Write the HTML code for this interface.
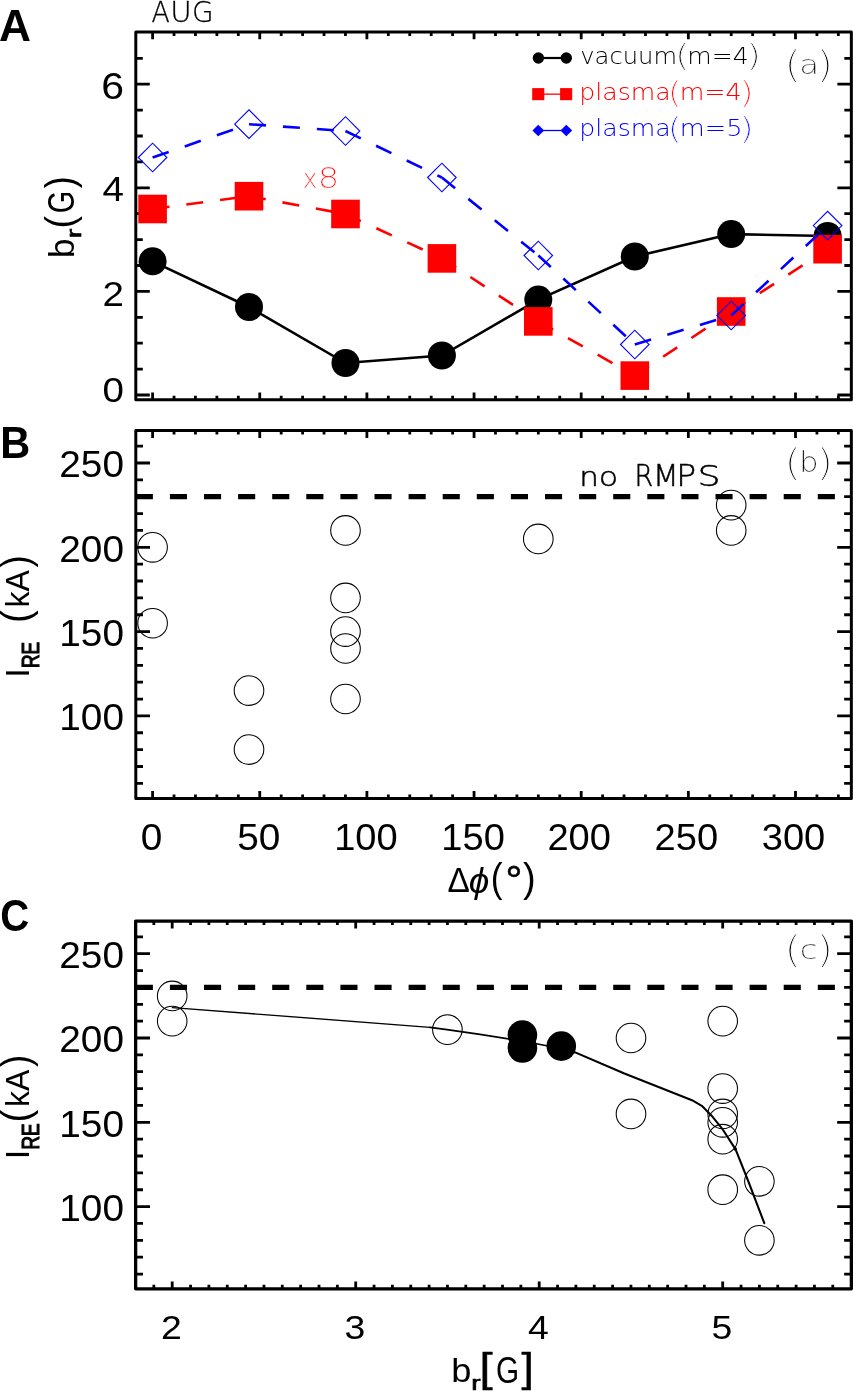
<!DOCTYPE html>
<html><head><meta charset="utf-8"><title>Figure</title>
<style>html,body{margin:0;padding:0;background:#fff}svg{display:block}</style></head>
<body><svg width="853" height="1392" viewBox="0 0 853 1392">
<rect width="853" height="1392" fill="#fff"/>
<g id="panel-a">
<rect x="135.8" y="32.0" width="715.55" height="367.80" fill="none" stroke="#000" stroke-width="3.0" stroke-linejoin="round"/>
<path d="M152.60 32.00L152.60 39.30M152.60 399.80L152.60 392.50M259.75 32.00L259.75 39.30M259.75 399.80L259.75 392.50M366.90 32.00L366.90 39.30M366.90 399.80L366.90 392.50M474.05 32.00L474.05 39.30M474.05 399.80L474.05 392.50M581.20 32.00L581.20 39.30M581.20 399.80L581.20 392.50M688.35 32.00L688.35 39.30M688.35 399.80L688.35 392.50M795.50 32.00L795.50 39.30M795.50 399.80L795.50 392.50M174.03 32.00L174.03 36.00M174.03 399.80L174.03 395.80M195.46 32.00L195.46 36.00M195.46 399.80L195.46 395.80M216.89 32.00L216.89 36.00M216.89 399.80L216.89 395.80M238.32 32.00L238.32 36.00M238.32 399.80L238.32 395.80M281.18 32.00L281.18 36.00M281.18 399.80L281.18 395.80M302.61 32.00L302.61 36.00M302.61 399.80L302.61 395.80M324.04 32.00L324.04 36.00M324.04 399.80L324.04 395.80M345.47 32.00L345.47 36.00M345.47 399.80L345.47 395.80M388.33 32.00L388.33 36.00M388.33 399.80L388.33 395.80M409.76 32.00L409.76 36.00M409.76 399.80L409.76 395.80M431.19 32.00L431.19 36.00M431.19 399.80L431.19 395.80M452.62 32.00L452.62 36.00M452.62 399.80L452.62 395.80M495.48 32.00L495.48 36.00M495.48 399.80L495.48 395.80M516.91 32.00L516.91 36.00M516.91 399.80L516.91 395.80M538.34 32.00L538.34 36.00M538.34 399.80L538.34 395.80M559.77 32.00L559.77 36.00M559.77 399.80L559.77 395.80M602.63 32.00L602.63 36.00M602.63 399.80L602.63 395.80M624.06 32.00L624.06 36.00M624.06 399.80L624.06 395.80M645.49 32.00L645.49 36.00M645.49 399.80L645.49 395.80M666.92 32.00L666.92 36.00M666.92 399.80L666.92 395.80M709.78 32.00L709.78 36.00M709.78 399.80L709.78 395.80M731.21 32.00L731.21 36.00M731.21 399.80L731.21 395.80M752.64 32.00L752.64 36.00M752.64 399.80L752.64 395.80M774.07 32.00L774.07 36.00M774.07 399.80L774.07 395.80M816.93 32.00L816.93 36.00M816.93 399.80L816.93 395.80M838.36 32.00L838.36 36.00M838.36 399.80L838.36 395.80" fill="none" stroke="#000" stroke-width="2.8"/>
<path d="M135.80 395.00L149.80 395.00M851.35 395.00L837.35 395.00M135.80 291.40L149.80 291.40M851.35 291.40L837.35 291.40M135.80 187.80L149.80 187.80M851.35 187.80L837.35 187.80M135.80 84.20L149.80 84.20M851.35 84.20L837.35 84.20M135.80 369.10L142.80 369.10M851.35 369.10L844.35 369.10M135.80 343.20L142.80 343.20M851.35 343.20L844.35 343.20M135.80 317.30L142.80 317.30M851.35 317.30L844.35 317.30M135.80 265.50L142.80 265.50M851.35 265.50L844.35 265.50M135.80 239.60L142.80 239.60M851.35 239.60L844.35 239.60M135.80 213.70L142.80 213.70M851.35 213.70L844.35 213.70M135.80 161.90L142.80 161.90M851.35 161.90L844.35 161.90M135.80 136.00L142.80 136.00M851.35 136.00L844.35 136.00M135.80 110.10L142.80 110.10M851.35 110.10L844.35 110.10M135.80 58.30L142.80 58.30M851.35 58.30L844.35 58.30" fill="none" stroke="#000" stroke-width="2.8"/>
<text transform="translate(124.00,99.08) scale(1.1,1)" font-family='"Liberation Sans", sans-serif' font-size="37.2" font-weight="400" text-anchor="end" fill="#000" >6</text>
<text transform="translate(124.00,201.40) scale(1.1,1)" font-family='"Liberation Sans", sans-serif' font-size="35.0" font-weight="400" text-anchor="end" fill="#000" >4</text>
<text transform="translate(124.00,306.20) scale(1.1,1)" font-family='"Liberation Sans", sans-serif' font-size="35.0" font-weight="400" text-anchor="end" fill="#000" >2</text>
<text transform="translate(124.00,401.60) scale(1.1,1)" font-family='"Liberation Sans", sans-serif' font-size="35.0" font-weight="400" text-anchor="end" fill="#000" >0</text>
<polyline points="152.6,261.3 249.0,307.0 345.5,363.0 441.9,355.5 538.3,299.6 634.8,256.5 731.2,234.1 827.6,236.0" fill="none" stroke="#000" stroke-width="2.6"/>
<circle cx="152.6" cy="261.3" r="14" fill="#000"/>
<circle cx="249.0" cy="307.0" r="14" fill="#000"/>
<circle cx="345.5" cy="363.0" r="14" fill="#000"/>
<circle cx="441.9" cy="355.5" r="14" fill="#000"/>
<circle cx="538.3" cy="299.6" r="14" fill="#000"/>
<circle cx="634.8" cy="256.5" r="14" fill="#000"/>
<circle cx="731.2" cy="234.1" r="14" fill="#000"/>
<circle cx="827.6" cy="236.0" r="14" fill="#000"/>
<line x1="152.60" y1="209.00" x2="249.03" y2="196.20" stroke="#f00" stroke-width="2.6" stroke-linecap="butt" stroke-dasharray="17 17"/>
<line x1="249.03" y1="196.20" x2="345.47" y2="214.00" stroke="#f00" stroke-width="2.6" stroke-linecap="butt" stroke-dasharray="17 17"/>
<line x1="345.47" y1="214.00" x2="441.90" y2="258.40" stroke="#f00" stroke-width="2.6" stroke-linecap="butt" stroke-dasharray="17 17"/>
<line x1="441.90" y1="258.40" x2="538.34" y2="321.40" stroke="#f00" stroke-width="2.6" stroke-linecap="butt" stroke-dasharray="17 17"/>
<line x1="538.34" y1="321.40" x2="634.77" y2="375.60" stroke="#f00" stroke-width="2.6" stroke-linecap="butt" stroke-dasharray="17 17"/>
<line x1="634.77" y1="375.60" x2="731.21" y2="311.50" stroke="#f00" stroke-width="2.6" stroke-linecap="butt" stroke-dasharray="17 17"/>
<line x1="731.21" y1="311.50" x2="827.64" y2="249.20" stroke="#f00" stroke-width="2.6" stroke-linecap="butt" stroke-dasharray="17 17"/>
<rect x="138.3" y="194.7" width="28.6" height="28.6" fill="#f00"/>
<rect x="234.7" y="181.9" width="28.6" height="28.6" fill="#f00"/>
<rect x="331.2" y="199.7" width="28.6" height="28.6" fill="#f00"/>
<rect x="427.6" y="244.1" width="28.6" height="28.6" fill="#f00"/>
<rect x="524.0" y="307.1" width="28.6" height="28.6" fill="#f00"/>
<rect x="620.5" y="361.3" width="28.6" height="28.6" fill="#f00"/>
<rect x="716.9" y="297.2" width="28.6" height="28.6" fill="#f00"/>
<rect x="813.3" y="234.9" width="28.6" height="28.6" fill="#f00"/>
<line x1="152.60" y1="157.50" x2="249.03" y2="124.20" stroke="#00f" stroke-width="2.6" stroke-linecap="butt" stroke-dasharray="17 17"/>
<line x1="249.03" y1="124.20" x2="345.47" y2="131.00" stroke="#00f" stroke-width="2.6" stroke-linecap="butt" stroke-dasharray="17 17"/>
<line x1="345.47" y1="131.00" x2="441.90" y2="177.50" stroke="#00f" stroke-width="2.6" stroke-linecap="butt" stroke-dasharray="17 17"/>
<line x1="441.90" y1="177.50" x2="538.34" y2="255.50" stroke="#00f" stroke-width="2.6" stroke-linecap="butt" stroke-dasharray="17 17"/>
<line x1="538.34" y1="255.50" x2="634.77" y2="344.50" stroke="#00f" stroke-width="2.6" stroke-linecap="butt" stroke-dasharray="17 17"/>
<line x1="634.77" y1="344.50" x2="731.21" y2="315.50" stroke="#00f" stroke-width="2.6" stroke-linecap="butt" stroke-dasharray="17 17"/>
<line x1="731.21" y1="315.50" x2="827.64" y2="225.60" stroke="#00f" stroke-width="2.6" stroke-linecap="butt" stroke-dasharray="17 17"/>
<path d="M138.3 157.5L152.6 143.2L166.9 157.5L152.6 171.8Z" fill="none" stroke="#00f" stroke-width="1.1"/>
<path d="M234.7 124.2L249.0 109.9L263.3 124.2L249.0 138.5Z" fill="none" stroke="#00f" stroke-width="1.1"/>
<path d="M331.2 131.0L345.5 116.7L359.8 131.0L345.5 145.3Z" fill="none" stroke="#00f" stroke-width="1.1"/>
<path d="M427.6 177.5L441.9 163.2L456.2 177.5L441.9 191.8Z" fill="none" stroke="#00f" stroke-width="1.1"/>
<path d="M524.0 255.5L538.3 241.2L552.6 255.5L538.3 269.8Z" fill="none" stroke="#00f" stroke-width="1.1"/>
<path d="M620.5 344.5L634.8 330.2L649.1 344.5L634.8 358.8Z" fill="none" stroke="#00f" stroke-width="1.1"/>
<path d="M716.9 315.5L731.2 301.2L745.5 315.5L731.2 329.8Z" fill="none" stroke="#00f" stroke-width="1.1"/>
<path d="M813.3 225.6L827.6 211.3L841.9 225.6L827.6 239.9Z" fill="none" stroke="#00f" stroke-width="1.1"/>
<line x1="538.40" y1="58.00" x2="566.30" y2="58.00" stroke="#000" stroke-width="2.2" stroke-linecap="butt"/>
<circle cx="538.4" cy="58.0" r="5.7" fill="#000"/><circle cx="566.3" cy="58.0" r="5.7" fill="#000"/>
<line x1="538.00" y1="94.15" x2="566.00" y2="94.15" stroke="#f00" stroke-width="1.3" stroke-linecap="butt"/>
<rect x="532.20" y="88.10" width="12.1" height="12.1" fill="#f00"/>
<rect x="560.10" y="88.10" width="12.1" height="12.1" fill="#f00"/>
<line x1="538.00" y1="130.50" x2="566.00" y2="130.50" stroke="#00f" stroke-width="1.3" stroke-linecap="butt"/>
<path d="M532.4 130.5L538.25 124.65L544.1 130.5L538.25 136.35Z" fill="#00f"/>
<path d="M560.4499999999999 130.5L566.3 124.65L572.15 130.5L566.3 136.35Z" fill="#00f"/>
<text transform="translate(0.00,63.50)" font-family='"DejaVu Sans Light", "DejaVu Sans", sans-serif' font-weight="200" fill="#000"><tspan x="580.26" y="0.00" font-size="22.8" textLength="96.71" lengthAdjust="spacingAndGlyphs">vacuum</tspan><tspan x="674.94" y="2.70" font-size="31.0" textLength="14.49" lengthAdjust="spacingAndGlyphs" stroke="#fff" stroke-width="0.5">(</tspan><tspan x="687.26" y="0.00" font-size="22.8" textLength="61.34" lengthAdjust="spacingAndGlyphs">m=4</tspan><tspan x="746.44" y="2.70" font-size="31.0" textLength="14.49" lengthAdjust="spacingAndGlyphs" stroke="#fff" stroke-width="0.5">)</tspan></text>
<text transform="translate(0.00,99.80)" font-family='"DejaVu Sans Light", "DejaVu Sans", sans-serif' font-weight="200" fill="#f00"><tspan x="579.32" y="0.00" font-size="22.8" textLength="91.43" lengthAdjust="spacingAndGlyphs">plasma</tspan><tspan x="667.86" y="2.70" font-size="31.0" textLength="14.05" lengthAdjust="spacingAndGlyphs" stroke="#fff" stroke-width="0.5">(</tspan><tspan x="679.74" y="0.00" font-size="22.8" textLength="61.89" lengthAdjust="spacingAndGlyphs">m=4</tspan><tspan x="739.38" y="2.70" font-size="31.0" textLength="14.71" lengthAdjust="spacingAndGlyphs" stroke="#fff" stroke-width="0.5">)</tspan></text>
<text transform="translate(0.00,136.00)" font-family='"DejaVu Sans Light", "DejaVu Sans", sans-serif' font-weight="200" fill="#00f"><tspan x="579.32" y="0.00" font-size="22.8" textLength="91.43" lengthAdjust="spacingAndGlyphs">plasma</tspan><tspan x="667.86" y="2.70" font-size="31.0" textLength="14.05" lengthAdjust="spacingAndGlyphs" stroke="#fff" stroke-width="0.5">(</tspan><tspan x="679.70" y="0.00" font-size="22.8" textLength="62.76" lengthAdjust="spacingAndGlyphs">m=5</tspan><tspan x="739.38" y="2.70" font-size="31.0" textLength="14.71" lengthAdjust="spacingAndGlyphs" stroke="#fff" stroke-width="0.5">)</tspan></text>
<text transform="translate(0.00,74.00)" font-family='"DejaVu Sans Light", "DejaVu Sans", sans-serif' font-weight="200" fill="#000"><tspan x="784.08" y="3.00" font-size="38.0" textLength="17.56" lengthAdjust="spacingAndGlyphs" stroke="#fff" stroke-width="0.8">(</tspan><tspan x="799.20" y="0.00" font-size="27.0" textLength="19.82" lengthAdjust="spacingAndGlyphs" stroke="#fff" stroke-width="0.3">a</tspan><tspan x="816.08" y="3.00" font-size="38.0" textLength="17.56" lengthAdjust="spacingAndGlyphs" stroke="#fff" stroke-width="0.8">)</tspan></text>
<text transform="translate(0.00,188.00)" font-family='"DejaVu Sans Light", "DejaVu Sans", sans-serif' font-weight="200" fill="#f00"><tspan x="302.82" y="0.00" font-size="27.4" textLength="14.66" lengthAdjust="spacingAndGlyphs" stroke="#fff" stroke-width="0.4">x</tspan><tspan x="317.82" y="0.00" font-size="29.2" textLength="21.48" lengthAdjust="spacingAndGlyphs" stroke="#fff" stroke-width="0.4">8</tspan></text>
<text transform="translate(0.00,21.70)" font-family='"DejaVu Sans Light", "DejaVu Sans", sans-serif' font-weight="200" fill="#000" stroke="#000" stroke-width="0"><tspan x="151.60" y="0.00" font-size="28.7" textLength="18.28" lengthAdjust="spacingAndGlyphs" stroke-width="0.3">A</tspan><tspan x="170.22" y="0.00" font-size="28.7" textLength="21.46" lengthAdjust="spacingAndGlyphs" stroke-width="0.3">U</tspan><tspan x="191.97" y="0.00" font-size="28.4" textLength="21.59" lengthAdjust="spacingAndGlyphs" stroke-width="0.3">G</tspan></text>
<text transform="translate(0.00,41.30)" font-family='"Liberation Sans", sans-serif' font-weight="700" fill="#000"><tspan x="-0.90" y="0.00" font-size="43.5" textLength="31.97" lengthAdjust="spacingAndGlyphs">A</tspan></text>
<text transform="translate(0.00,457.90)" font-family='"Liberation Sans", sans-serif' font-weight="700" fill="#000"><tspan x="0.22" y="0.00" font-size="43.5" textLength="29.96" lengthAdjust="spacingAndGlyphs">B</tspan></text>
<text transform="translate(0.00,930.80)" font-family='"Liberation Sans", sans-serif' font-weight="700" fill="#000"><tspan x="0.16" y="0.00" font-size="43.5" textLength="28.94" lengthAdjust="spacingAndGlyphs">C</tspan></text>
<text transform="translate(73.90,256.00) rotate(-90)" font-family='"Liberation Sans", sans-serif' font-weight="400" fill="#000" stroke="#000" stroke-width="0"><tspan x="-1.95" y="0.00" font-size="34.2" textLength="19.42" lengthAdjust="spacingAndGlyphs">b</tspan><tspan x="17.81" y="7.20" font-size="20.5" textLength="9.46" lengthAdjust="spacingAndGlyphs" stroke-width="0.7">r</tspan><tspan x="27.46" y="0.40" font-size="40.0" textLength="12.56" lengthAdjust="spacingAndGlyphs">(</tspan><tspan x="42.74" y="0.40" font-size="37.3" textLength="22.52" lengthAdjust="spacingAndGlyphs">G</tspan><tspan x="67.79" y="0.40" font-size="40.0" textLength="11.93" lengthAdjust="spacingAndGlyphs">)</tspan></text>
</g>
<g id="panel-b">
<rect x="135.8" y="430.6" width="715.55" height="367.80" fill="none" stroke="#000" stroke-width="3.0" stroke-linejoin="round"/>
<path d="M152.60 430.60L152.60 437.90M152.60 798.40L152.60 791.10M259.75 430.60L259.75 437.90M259.75 798.40L259.75 791.10M366.90 430.60L366.90 437.90M366.90 798.40L366.90 791.10M474.05 430.60L474.05 437.90M474.05 798.40L474.05 791.10M581.20 430.60L581.20 437.90M581.20 798.40L581.20 791.10M688.35 430.60L688.35 437.90M688.35 798.40L688.35 791.10M795.50 430.60L795.50 437.90M795.50 798.40L795.50 791.10M174.03 430.60L174.03 434.60M174.03 798.40L174.03 794.40M195.46 430.60L195.46 434.60M195.46 798.40L195.46 794.40M216.89 430.60L216.89 434.60M216.89 798.40L216.89 794.40M238.32 430.60L238.32 434.60M238.32 798.40L238.32 794.40M281.18 430.60L281.18 434.60M281.18 798.40L281.18 794.40M302.61 430.60L302.61 434.60M302.61 798.40L302.61 794.40M324.04 430.60L324.04 434.60M324.04 798.40L324.04 794.40M345.47 430.60L345.47 434.60M345.47 798.40L345.47 794.40M388.33 430.60L388.33 434.60M388.33 798.40L388.33 794.40M409.76 430.60L409.76 434.60M409.76 798.40L409.76 794.40M431.19 430.60L431.19 434.60M431.19 798.40L431.19 794.40M452.62 430.60L452.62 434.60M452.62 798.40L452.62 794.40M495.48 430.60L495.48 434.60M495.48 798.40L495.48 794.40M516.91 430.60L516.91 434.60M516.91 798.40L516.91 794.40M538.34 430.60L538.34 434.60M538.34 798.40L538.34 794.40M559.77 430.60L559.77 434.60M559.77 798.40L559.77 794.40M602.63 430.60L602.63 434.60M602.63 798.40L602.63 794.40M624.06 430.60L624.06 434.60M624.06 798.40L624.06 794.40M645.49 430.60L645.49 434.60M645.49 798.40L645.49 794.40M666.92 430.60L666.92 434.60M666.92 798.40L666.92 794.40M709.78 430.60L709.78 434.60M709.78 798.40L709.78 794.40M731.21 430.60L731.21 434.60M731.21 798.40L731.21 794.40M752.64 430.60L752.64 434.60M752.64 798.40L752.64 794.40M774.07 430.60L774.07 434.60M774.07 798.40L774.07 794.40M816.93 430.60L816.93 434.60M816.93 798.40L816.93 794.40M838.36 430.60L838.36 434.60M838.36 798.40L838.36 794.40" fill="none" stroke="#000" stroke-width="2.8"/>
<path d="M135.80 715.90L150.00 715.90M851.35 715.90L837.15 715.90M135.80 631.60L150.00 631.60M851.35 631.60L837.15 631.60M135.80 547.30L150.00 547.30M851.35 547.30L837.15 547.30M135.80 463.00L150.00 463.00M851.35 463.00L837.15 463.00M135.80 783.34L143.00 783.34M851.35 783.34L844.15 783.34M135.80 766.48L143.00 766.48M851.35 766.48L844.15 766.48M135.80 749.62L143.00 749.62M851.35 749.62L844.15 749.62M135.80 732.76L143.00 732.76M851.35 732.76L844.15 732.76M135.80 699.04L143.00 699.04M851.35 699.04L844.15 699.04M135.80 682.18L143.00 682.18M851.35 682.18L844.15 682.18M135.80 665.32L143.00 665.32M851.35 665.32L844.15 665.32M135.80 648.46L143.00 648.46M851.35 648.46L844.15 648.46M135.80 614.74L143.00 614.74M851.35 614.74L844.15 614.74M135.80 597.88L143.00 597.88M851.35 597.88L844.15 597.88M135.80 581.02L143.00 581.02M851.35 581.02L844.15 581.02M135.80 564.16L143.00 564.16M851.35 564.16L844.15 564.16M135.80 530.44L143.00 530.44M851.35 530.44L844.15 530.44M135.80 513.58L143.00 513.58M851.35 513.58L844.15 513.58M135.80 496.72L143.00 496.72M851.35 496.72L844.15 496.72M135.80 479.86L143.00 479.86M851.35 479.86L844.15 479.86M135.80 446.14L143.00 446.14M851.35 446.14L844.15 446.14" fill="none" stroke="#000" stroke-width="2.8"/>
<text transform="translate(124.00,730.30) scale(1.06,1)" font-family='"Liberation Sans", sans-serif' font-size="36.6" font-weight="400" text-anchor="end" fill="#000" >100</text>
<text transform="translate(124.00,646.00) scale(1.06,1)" font-family='"Liberation Sans", sans-serif' font-size="36.6" font-weight="400" text-anchor="end" fill="#000" >150</text>
<text transform="translate(124.00,561.70) scale(1.06,1)" font-family='"Liberation Sans", sans-serif' font-size="36.6" font-weight="400" text-anchor="end" fill="#000" >200</text>
<text transform="translate(124.00,477.40) scale(1.06,1)" font-family='"Liberation Sans", sans-serif' font-size="36.6" font-weight="400" text-anchor="end" fill="#000" >250</text>
<text transform="translate(151.60,849.60) scale(1.06,1)" font-family='"Liberation Sans", sans-serif' font-size="36.6" font-weight="400" text-anchor="middle" fill="#000" >0</text>
<text transform="translate(258.75,849.60) scale(1.06,1)" font-family='"Liberation Sans", sans-serif' font-size="36.6" font-weight="400" text-anchor="middle" fill="#000" >50</text>
<text transform="translate(365.90,849.60) scale(1.04,1)" font-family='"Liberation Sans", sans-serif' font-size="36.6" font-weight="400" text-anchor="middle" fill="#000" >100</text>
<text transform="translate(473.05,849.60) scale(1.04,1)" font-family='"Liberation Sans", sans-serif' font-size="36.6" font-weight="400" text-anchor="middle" fill="#000" >150</text>
<text transform="translate(579.20,849.60) scale(1.04,1)" font-family='"Liberation Sans", sans-serif' font-size="36.6" font-weight="400" text-anchor="middle" fill="#000" >200</text>
<text transform="translate(686.35,849.60) scale(1.04,1)" font-family='"Liberation Sans", sans-serif' font-size="36.6" font-weight="400" text-anchor="middle" fill="#000" >250</text>
<text transform="translate(793.50,849.60) scale(1.04,1)" font-family='"Liberation Sans", sans-serif' font-size="36.6" font-weight="400" text-anchor="middle" fill="#000" >300</text>
<line x1="135.80" y1="496.72" x2="851.35" y2="496.72" stroke="#000" stroke-width="5.2" stroke-linecap="butt" stroke-dasharray="17.1 17.0"/>
<circle cx="152.6" cy="547.3" r="14.8" fill="none" stroke="#000" stroke-width="1.05"/>
<circle cx="152.6" cy="623.2" r="14.8" fill="none" stroke="#000" stroke-width="1.05"/>
<circle cx="249.0" cy="690.6" r="14.8" fill="none" stroke="#000" stroke-width="1.05"/>
<circle cx="249.0" cy="749.6" r="14.8" fill="none" stroke="#000" stroke-width="1.05"/>
<circle cx="345.5" cy="530.4" r="14.8" fill="none" stroke="#000" stroke-width="1.05"/>
<circle cx="345.5" cy="597.9" r="14.8" fill="none" stroke="#000" stroke-width="1.05"/>
<circle cx="345.5" cy="631.6" r="14.8" fill="none" stroke="#000" stroke-width="1.05"/>
<circle cx="345.5" cy="648.5" r="14.8" fill="none" stroke="#000" stroke-width="1.05"/>
<circle cx="345.5" cy="699.0" r="14.8" fill="none" stroke="#000" stroke-width="1.05"/>
<circle cx="538.3" cy="538.9" r="14.8" fill="none" stroke="#000" stroke-width="1.05"/>
<circle cx="731.2" cy="505.1" r="14.8" fill="none" stroke="#000" stroke-width="1.05"/>
<circle cx="731.2" cy="530.4" r="14.8" fill="none" stroke="#000" stroke-width="1.05"/>
<text transform="translate(0.00,486.10)" font-family='"DejaVu Sans Light", "DejaVu Sans", sans-serif' font-weight="200" fill="#000" stroke="#000" stroke-width="0"><tspan x="579.39" y="0.00" font-size="26.0" textLength="19.64" lengthAdjust="spacingAndGlyphs" stroke-width="0.5">n</tspan><tspan x="598.69" y="0.00" font-size="26.0" textLength="29.54" lengthAdjust="spacingAndGlyphs" stroke-width="0.5">o </tspan><tspan x="634.40" y="0.00" font-size="29.3" textLength="18.64" lengthAdjust="spacingAndGlyphs" stroke-width="0.5">R</tspan><tspan x="653.12" y="0.00" font-size="29.3" textLength="25.65" lengthAdjust="spacingAndGlyphs" stroke-width="0.5">M</tspan><tspan x="676.38" y="0.00" font-size="29.3" textLength="19.84" lengthAdjust="spacingAndGlyphs" stroke-width="0.5">P</tspan><tspan x="697.47" y="0.00" font-size="29.0" textLength="23.10" lengthAdjust="spacingAndGlyphs" stroke-width="0.5">S</tspan></text>
<text transform="translate(0.00,471.90)" font-family='"DejaVu Sans Light", "DejaVu Sans", sans-serif' font-weight="200" fill="#000"><tspan x="784.08" y="3.00" font-size="38.0" textLength="17.56" lengthAdjust="spacingAndGlyphs" stroke="#fff" stroke-width="0.8">(</tspan><tspan x="799.38" y="0.00" font-size="27.5" textLength="19.29" lengthAdjust="spacingAndGlyphs" stroke="#fff" stroke-width="0.3">b</tspan><tspan x="816.08" y="3.00" font-size="38.0" textLength="17.56" lengthAdjust="spacingAndGlyphs" stroke="#fff" stroke-width="0.8">)</tspan></text>
<text transform="translate(28.60,676.00) rotate(-90)" font-family='"Liberation Sans", sans-serif' font-weight="400" fill="#000" stroke="#000" stroke-width="0"><tspan x="-1.67" y="0.00" font-size="34.0" textLength="9.53" lengthAdjust="spacingAndGlyphs">I</tspan><tspan x="7.95" y="10.00" font-size="24.0" textLength="31.52" lengthAdjust="spacingAndGlyphs" stroke-width="1.1">RE </tspan><tspan x="53.01" y="1.30" font-size="40.0" textLength="12.81" lengthAdjust="spacingAndGlyphs">(</tspan><tspan x="68.44" y="0.00" font-size="34.0" textLength="37.42" lengthAdjust="spacingAndGlyphs">kA</tspan><tspan x="108.49" y="1.30" font-size="40.0" textLength="12.18" lengthAdjust="spacingAndGlyphs">)</tspan></text>
<text transform="translate(0.00,892.30)" font-family='"Liberation Sans", sans-serif' font-weight="400" fill="#000" stroke="#000" stroke-width="0"><tspan x="447.51" y="0.00" font-size="35.5" textLength="22.31" lengthAdjust="spacingAndGlyphs">Δ</tspan><tspan x="468.71" y="0.30" font-size="35.0" textLength="20.59" lengthAdjust="spacingAndGlyphs" font-style="italic">ϕ</tspan><tspan x="490.80" y="0.00" font-size="41.0" textLength="11.81" lengthAdjust="spacingAndGlyphs">(</tspan><tspan x="505.59" y="1.70" font-size="40.0" textLength="16.84" lengthAdjust="spacingAndGlyphs" stroke-width="0.6">°</tspan><tspan x="522.88" y="0.00" font-size="41.0" textLength="12.69" lengthAdjust="spacingAndGlyphs">)</tspan></text>
</g>
<g id="panel-c">
<rect x="135.65" y="921.1" width="715.70" height="367.70" fill="none" stroke="#000" stroke-width="3.3" stroke-linejoin="round"/>
<path d="M172.20 921.10L172.20 928.40M172.20 1288.80L172.20 1281.50M355.70 921.10L355.70 928.40M355.70 1288.80L355.70 1281.50M539.20 921.10L539.20 928.40M539.20 1288.80L539.20 1281.50M722.70 921.10L722.70 928.40M722.70 1288.80L722.70 1281.50M153.85 921.10L153.85 925.10M153.85 1288.80L153.85 1284.80M190.55 921.10L190.55 925.10M190.55 1288.80L190.55 1284.80M208.90 921.10L208.90 925.10M208.90 1288.80L208.90 1284.80M227.25 921.10L227.25 925.10M227.25 1288.80L227.25 1284.80M245.60 921.10L245.60 925.10M245.60 1288.80L245.60 1284.80M263.95 921.10L263.95 925.10M263.95 1288.80L263.95 1284.80M282.30 921.10L282.30 925.10M282.30 1288.80L282.30 1284.80M300.65 921.10L300.65 925.10M300.65 1288.80L300.65 1284.80M319.00 921.10L319.00 925.10M319.00 1288.80L319.00 1284.80M337.35 921.10L337.35 925.10M337.35 1288.80L337.35 1284.80M374.05 921.10L374.05 925.10M374.05 1288.80L374.05 1284.80M392.40 921.10L392.40 925.10M392.40 1288.80L392.40 1284.80M410.75 921.10L410.75 925.10M410.75 1288.80L410.75 1284.80M429.10 921.10L429.10 925.10M429.10 1288.80L429.10 1284.80M447.45 921.10L447.45 925.10M447.45 1288.80L447.45 1284.80M465.80 921.10L465.80 925.10M465.80 1288.80L465.80 1284.80M484.15 921.10L484.15 925.10M484.15 1288.80L484.15 1284.80M502.50 921.10L502.50 925.10M502.50 1288.80L502.50 1284.80M520.85 921.10L520.85 925.10M520.85 1288.80L520.85 1284.80M557.55 921.10L557.55 925.10M557.55 1288.80L557.55 1284.80M575.90 921.10L575.90 925.10M575.90 1288.80L575.90 1284.80M594.25 921.10L594.25 925.10M594.25 1288.80L594.25 1284.80M612.60 921.10L612.60 925.10M612.60 1288.80L612.60 1284.80M630.95 921.10L630.95 925.10M630.95 1288.80L630.95 1284.80M649.30 921.10L649.30 925.10M649.30 1288.80L649.30 1284.80M667.65 921.10L667.65 925.10M667.65 1288.80L667.65 1284.80M686.00 921.10L686.00 925.10M686.00 1288.80L686.00 1284.80M704.35 921.10L704.35 925.10M704.35 1288.80L704.35 1284.80M741.05 921.10L741.05 925.10M741.05 1288.80L741.05 1284.80M759.40 921.10L759.40 925.10M759.40 1288.80L759.40 1284.80M777.75 921.10L777.75 925.10M777.75 1288.80L777.75 1284.80M796.10 921.10L796.10 925.10M796.10 1288.80L796.10 1284.80M814.45 921.10L814.45 925.10M814.45 1288.80L814.45 1284.80M832.80 921.10L832.80 925.10M832.80 1288.80L832.80 1284.80" fill="none" stroke="#000" stroke-width="2.8"/>
<path d="M135.80 1206.60L150.00 1206.60M851.35 1206.60L837.15 1206.60M135.80 1122.30L150.00 1122.30M851.35 1122.30L837.15 1122.30M135.80 1038.00L150.00 1038.00M851.35 1038.00L837.15 1038.00M135.80 953.70L150.00 953.70M851.35 953.70L837.15 953.70M135.80 1274.04L143.00 1274.04M851.35 1274.04L844.15 1274.04M135.80 1257.18L143.00 1257.18M851.35 1257.18L844.15 1257.18M135.80 1240.32L143.00 1240.32M851.35 1240.32L844.15 1240.32M135.80 1223.46L143.00 1223.46M851.35 1223.46L844.15 1223.46M135.80 1189.74L143.00 1189.74M851.35 1189.74L844.15 1189.74M135.80 1172.88L143.00 1172.88M851.35 1172.88L844.15 1172.88M135.80 1156.02L143.00 1156.02M851.35 1156.02L844.15 1156.02M135.80 1139.16L143.00 1139.16M851.35 1139.16L844.15 1139.16M135.80 1105.44L143.00 1105.44M851.35 1105.44L844.15 1105.44M135.80 1088.58L143.00 1088.58M851.35 1088.58L844.15 1088.58M135.80 1071.72L143.00 1071.72M851.35 1071.72L844.15 1071.72M135.80 1054.86L143.00 1054.86M851.35 1054.86L844.15 1054.86M135.80 1021.14L143.00 1021.14M851.35 1021.14L844.15 1021.14M135.80 1004.28L143.00 1004.28M851.35 1004.28L844.15 1004.28M135.80 987.42L143.00 987.42M851.35 987.42L844.15 987.42M135.80 970.56L143.00 970.56M851.35 970.56L844.15 970.56M135.80 936.84L143.00 936.84M851.35 936.84L844.15 936.84" fill="none" stroke="#000" stroke-width="2.8"/>
<text transform="translate(124.00,1221.00) scale(1.06,1)" font-family='"Liberation Sans", sans-serif' font-size="36.6" font-weight="400" text-anchor="end" fill="#000" >100</text>
<text transform="translate(124.00,1136.70) scale(1.06,1)" font-family='"Liberation Sans", sans-serif' font-size="36.6" font-weight="400" text-anchor="end" fill="#000" >150</text>
<text transform="translate(124.00,1052.40) scale(1.06,1)" font-family='"Liberation Sans", sans-serif' font-size="36.6" font-weight="400" text-anchor="end" fill="#000" >200</text>
<text transform="translate(124.00,968.10) scale(1.06,1)" font-family='"Liberation Sans", sans-serif' font-size="36.6" font-weight="400" text-anchor="end" fill="#000" >250</text>
<text transform="translate(171.40,1339.30) scale(1.1,1)" font-family='"Liberation Sans", sans-serif' font-size="34.0" font-weight="400" text-anchor="middle" fill="#000" >2</text>
<text transform="translate(354.90,1339.30) scale(1.1,1)" font-family='"Liberation Sans", sans-serif' font-size="34.0" font-weight="400" text-anchor="middle" fill="#000" >3</text>
<text transform="translate(538.40,1339.30) scale(1.1,1)" font-family='"Liberation Sans", sans-serif' font-size="34.0" font-weight="400" text-anchor="middle" fill="#000" >4</text>
<text transform="translate(721.90,1339.30) scale(1.1,1)" font-family='"Liberation Sans", sans-serif' font-size="34.0" font-weight="400" text-anchor="middle" fill="#000" >5</text>
<line x1="135.80" y1="987.42" x2="851.35" y2="987.42" stroke="#000" stroke-width="5.2" stroke-linecap="butt" stroke-dasharray="17.1 17.0"/>
<circle cx="172.2" cy="995.9" r="14.8" fill="none" stroke="#000" stroke-width="1.05"/>
<circle cx="172.2" cy="1021.1" r="14.8" fill="none" stroke="#000" stroke-width="1.05"/>
<circle cx="447.4" cy="1029.6" r="14.8" fill="none" stroke="#000" stroke-width="1.05"/>
<circle cx="631.0" cy="1038.0" r="14.8" fill="none" stroke="#000" stroke-width="1.05"/>
<circle cx="631.0" cy="1113.9" r="14.8" fill="none" stroke="#000" stroke-width="1.05"/>
<circle cx="722.7" cy="1021.1" r="14.8" fill="none" stroke="#000" stroke-width="1.05"/>
<circle cx="722.7" cy="1088.6" r="14.8" fill="none" stroke="#000" stroke-width="1.05"/>
<circle cx="722.7" cy="1113.9" r="14.8" fill="none" stroke="#000" stroke-width="1.05"/>
<circle cx="722.7" cy="1122.3" r="14.8" fill="none" stroke="#000" stroke-width="1.05"/>
<circle cx="722.7" cy="1139.2" r="14.8" fill="none" stroke="#000" stroke-width="1.05"/>
<circle cx="722.7" cy="1189.7" r="14.8" fill="none" stroke="#000" stroke-width="1.05"/>
<circle cx="759.4" cy="1181.3" r="14.8" fill="none" stroke="#000" stroke-width="1.05"/>
<circle cx="759.4" cy="1240.3" r="14.8" fill="none" stroke="#000" stroke-width="1.05"/>
<circle cx="522.4" cy="1035.0" r="14.8" fill="#000"/>
<circle cx="522.4" cy="1048.0" r="14.8" fill="#000"/>
<circle cx="561.3" cy="1046.1" r="14.8" fill="#000"/>
<polyline points="172.4,1007.6 430,1027.3" fill="none" stroke="#000" stroke-width="1.35" stroke-linejoin="round" stroke-linecap="round"/>
<polyline points="430,1027.3 447,1029.6 480,1034.3 522,1041 561,1048.5" fill="none" stroke="#000" stroke-width="1.7" stroke-linejoin="round" stroke-linecap="round"/>
<polyline points="561,1048.5 575.2,1052.4 624.4,1073.5 692,1100.2 701.8,1105.8 711.6,1115.7 722.9,1129.7 735.6,1149.4 748.2,1181.0 764.3,1223.2" fill="none" stroke="#000" stroke-width="2.05" stroke-linejoin="round" stroke-linecap="round"/>
<circle cx="735.3" cy="1149.0" r="1.7" fill="#000"/>
<text transform="translate(0.00,958.80)" font-family='"DejaVu Sans Light", "DejaVu Sans", sans-serif' font-weight="200" fill="#000"><tspan x="784.08" y="3.00" font-size="38.0" textLength="17.56" lengthAdjust="spacingAndGlyphs" stroke="#fff" stroke-width="0.8">(</tspan><tspan x="799.65" y="0.00" font-size="26.5" textLength="17.70" lengthAdjust="spacingAndGlyphs" stroke="#fff" stroke-width="0.3">c</tspan><tspan x="816.08" y="3.00" font-size="38.0" textLength="17.56" lengthAdjust="spacingAndGlyphs" stroke="#fff" stroke-width="0.8">)</tspan></text>
<text transform="translate(28.90,1157.50) rotate(-90)" font-family='"Liberation Sans", sans-serif' font-weight="400" fill="#000" stroke="#000" stroke-width="0"><tspan x="-1.67" y="0.00" font-size="34.0" textLength="9.53" lengthAdjust="spacingAndGlyphs">I</tspan><tspan x="7.95" y="10.00" font-size="24.0" textLength="26.26" lengthAdjust="spacingAndGlyphs" stroke-width="1.1">RE</tspan><tspan x="35.01" y="1.30" font-size="40.0" textLength="12.81" lengthAdjust="spacingAndGlyphs">(</tspan><tspan x="50.44" y="0.00" font-size="34.0" textLength="37.42" lengthAdjust="spacingAndGlyphs">kA</tspan><tspan x="90.49" y="1.30" font-size="40.0" textLength="12.18" lengthAdjust="spacingAndGlyphs">)</tspan></text>
<text transform="translate(0.00,1382.20)" font-family='"Liberation Sans", sans-serif' font-weight="400" fill="#000" stroke="#000" stroke-width="0"><tspan x="451.16" y="0.00" font-size="33.0" textLength="20.16" lengthAdjust="spacingAndGlyphs">b</tspan><tspan x="471.34" y="7.60" font-size="20.5" textLength="9.32" lengthAdjust="spacingAndGlyphs" stroke-width="0.7">r</tspan><tspan x="479.63" y="0.20" font-size="40.5" textLength="13.14" lengthAdjust="spacingAndGlyphs" stroke-width="0.5">[</tspan><tspan x="495.91" y="0.70" font-size="36.0" textLength="23.11" lengthAdjust="spacingAndGlyphs">G</tspan><tspan x="521.45" y="0.20" font-size="40.5" textLength="12.30" lengthAdjust="spacingAndGlyphs" stroke-width="0.5">]</tspan></text>
</g>
</svg></body></html>
